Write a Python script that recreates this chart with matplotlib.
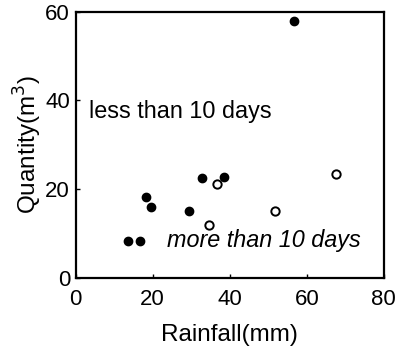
import matplotlib
matplotlib.use("Agg")
import matplotlib.pyplot as plt

plt.rcParams['font.family'] = ['Liberation Sans', 'DejaVu Sans']

# Data: less than 10 days (filled)
less_x = [56.6, 13.7, 16.7, 18.2, 19.5, 29.5, 32.8, 38.4]
less_y = [57.8, 8.4, 8.35, 18.3, 15.9, 15.1, 22.5, 22.7]
# more than 10 days (open)
more_x = [36.8, 34.7, 51.8, 67.6]
more_y = [21.2, 11.9, 15.1, 23.4]

xticks = [0, 20, 40, 60, 80]
yticks = [0, 20, 40, 60]

fig = plt.figure(figsize=(4.11, 3.51), dpi=100)
ax = fig.add_axes([0.184, 0.208, 0.750, 0.759])

ax.plot(less_x, less_y, 'o', color='black', markersize=6, linestyle='none')
ax.plot(more_x, more_y, 'o', markerfacecolor='white', markeredgecolor='black',
        markeredgewidth=1.4, markersize=6, linestyle='none')

ax.set_xlim(0, 80)
ax.set_ylim(0, 60)
ax.set_xticks(xticks)
ax.set_yticks(yticks)
ax.tick_params(direction='in', length=3, width=1, labelsize=16)
ax.tick_params(axis='x', pad=8)
ax.tick_params(axis='y', pad=4)
for s in ax.spines.values():
    s.set_linewidth(1.6)

ax.text(3.6, 37.6, 'less than 10 days', fontsize=16.8, va='center', ha='left')
ax.text(23.8, 8.4, 'more than 10 days', fontsize=16.8, va='center', ha='left', style='italic')

ax.set_xlabel('Rainfall(mm)', fontsize=17.5, labelpad=10)
ax.set_ylabel('Quantity(m$^3$)', fontsize=17.5, labelpad=1)

fig.savefig('out.png', dpi=100)
